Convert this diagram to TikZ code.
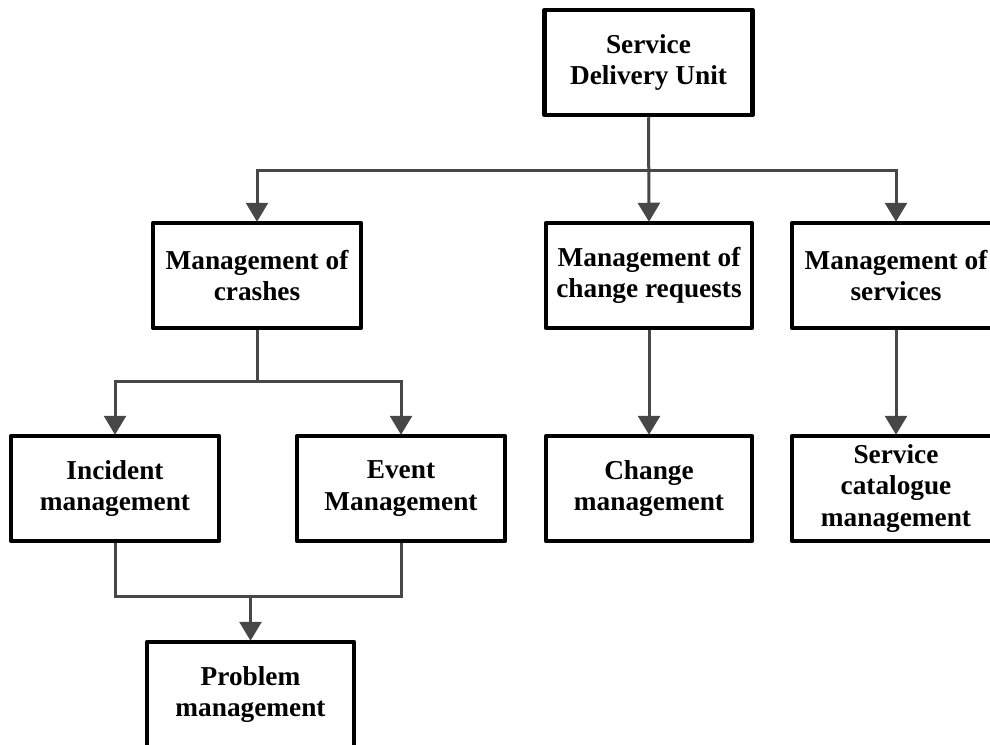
\documentclass[tikz,border=0pt]{standalone}
\usepackage{fontspec}
\setmainfont{Liberation Serif}
\usetikzlibrary{arrows.meta}
\definecolor{linkgray}{HTML}{474747}
\tikzset{
  unit/.style={draw=black, line width=4.5pt, line join=round, fill=white,
    minimum width=208pt, minimum height=105pt, inner sep=2pt, align=center,
    font=\fontsize{27.3pt}{31.5pt}\selectfont\bfseries},
  link/.style={draw=linkgray, line width=3pt},
  linkarrow/.style={link, -{Triangle[length=19pt,width=22pt]}, shorten >=-1pt}
}
\begin{document}
\begin{tikzpicture}[x=1pt,y=-1pt]
\useasboundingbox (0,0) rectangle (990,744);
% top unit
\node[unit] (sdu) at (648.5,62.5) {Service\\Delivery Unit};
% second level
\node[unit] (crash) at (257,275.5) {Management of\\crashes};
\node[unit, minimum width=206pt] (chreq) at (649,275.5) {Management of\\change requests};
\node[unit] (serv) at (896,275.5) {Management of\\services};
% third level
\node[unit] (inc) at (115,488.5) {Incident\\management};
\node[unit] (evt) at (401,488.5) {Event\\Management};
\node[unit, minimum width=206pt] (chg) at (649,488.5) {Change\\management};
\node[unit] (cat) at (896,488.5) {Service\\catalogue\\management};
% bottom
\node[unit, minimum width=207pt] (prob) at (250.5,694.5) {Problem\\management};

% branches from the delivery unit
\coordinate (split1) at (648.5,170);
\draw[linkarrow] (sdu.south) -- (chreq.north);
\draw[linkarrow] (split1) -| (crash.north);
\draw[linkarrow] (split1) -| (serv.north);
% branches from crashes
\coordinate (split2) at (257,381);
\draw[link] (crash.south) -- (split2);
\draw[linkarrow] (split2) -| (inc.north);
\draw[linkarrow] (split2) -| (evt.north);
% single chains
\draw[linkarrow] (chreq.south) -- (chg.north);
\draw[linkarrow] (serv.south) -- (cat.north);
% merge into problem management
\coordinate (merge) at (250.5,596);
\draw[link] (inc.south) |- (merge) -| (evt.south);
\draw[linkarrow] (merge) -- (prob.north);
\end{tikzpicture}
\end{document}
